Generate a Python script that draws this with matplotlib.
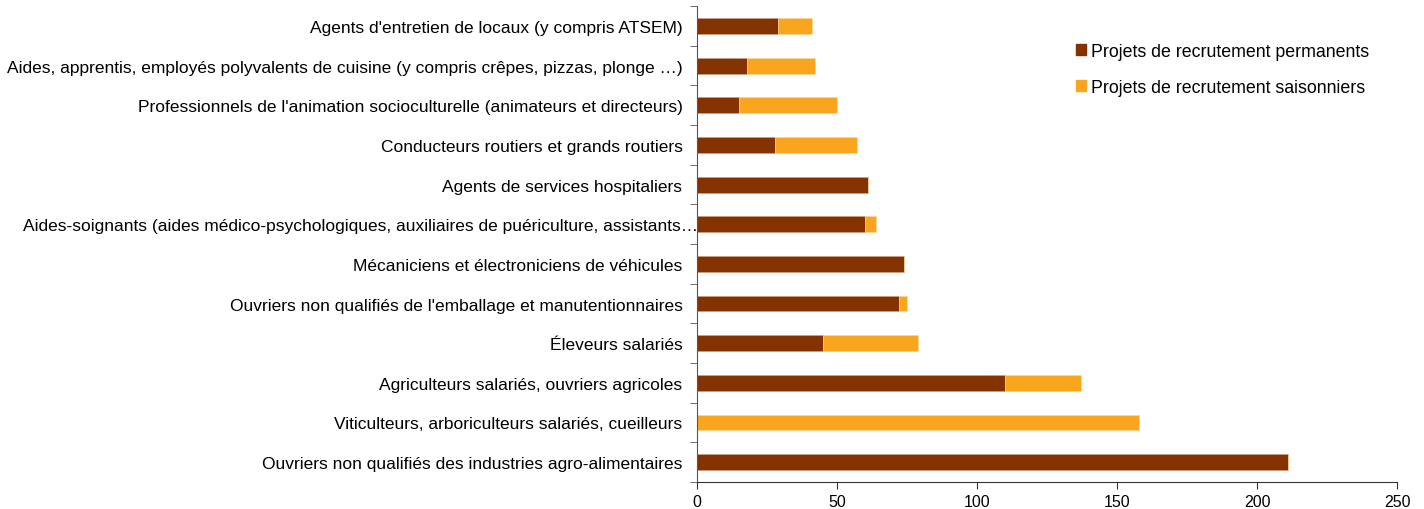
import matplotlib.pyplot as plt
import numpy as np
from matplotlib.patches import Patch
from matplotlib.transforms import ScaledTranslation

plt.rcParams["font.family"] = ["Liberation Sans", "DejaVu Sans"]

# categories from bottom to top
categories = [
    "Ouvriers non qualifiés des industries agro-alimentaires",
    "Viticulteurs, arboriculteurs salariés, cueilleurs",
    "Agriculteurs salariés, ouvriers agricoles",
    "Éleveurs salariés",
    "Ouvriers non qualifiés de l'emballage et manutentionnaires",
    "Mécaniciens et électroniciens de véhicules",
    "Aides-soignants (aides médico-psychologiques, auxiliaires de puériculture, assistants…",
    "Agents de services hospitaliers",
    "Conducteurs routiers et grands routiers",
    "Professionnels de l'animation socioculturelle (animateurs et directeurs)",
    "Aides, apprentis, employés polyvalents de cuisine (y compris crêpes, pizzas, plonge …)",
    "Agents d'entretien de locaux (y compris ATSEM)",
]
permanents = [211, 0, 110, 45, 72, 74, 60, 61, 28, 15, 18, 29]
saisonniers = [0, 158, 27, 34, 3, 0, 4, 0, 29, 35, 24, 12]

col_perm = "#833200"
col_sais = "#F9A61E"

fig = plt.figure(figsize=(14.24, 5.10), dpi=100)
ax = fig.add_axes([0.4895, 0.053, 0.4916, 0.933])

y = np.arange(len(categories))
ax.barh(y, permanents, height=0.4, color=col_perm, edgecolor="#c9a08a", linewidth=0.5)
ax.barh(y, saisonniers, height=0.4, left=permanents, color=col_sais,
        edgecolor="#fcd79a", linewidth=0.5)

ax.set_xlim(0, 250)
ax.set_ylim(-0.5, len(categories) - 0.5)
ax.set_xticks(np.arange(0, 251, 50))
ax.set_yticks(y)
ax.set_yticklabels(categories, fontsize=12.5)
ax.tick_params(axis="y", length=0, pad=10.5)
ax.set_yticks(np.arange(-0.5, len(categories), 1), minor=True)
ax.tick_params(axis="y", which="minor", length=5, color="#555555")
ax.tick_params(axis="x", labelsize=11.5, length=5, color="#333333")

# the truncated label runs onto the axis, as in the source
lbl = ax.get_yticklabels()[6]
lbl.set_transform(lbl.get_transform() + ScaledTranslation(11 / 72, 0, fig.dpi_scale_trans))

for side in ["top", "right"]:
    ax.spines[side].set_visible(False)
ax.spines["left"].set_color("#555555")
ax.spines["bottom"].set_color("#333333")

handles = [Patch(color=col_perm), Patch(color=col_sais)]
fig.legend(handles, ["Projets de recrutement permanents", "Projets de recrutement saisonniers"],
           loc="upper left", bbox_to_anchor=(0.7445, 0.946), frameon=False, fontsize=12.8,
           handlelength=0.55, handleheight=0.55, handletextpad=0.3, labelspacing=1.1)

fig.savefig("out.png", dpi=100)
